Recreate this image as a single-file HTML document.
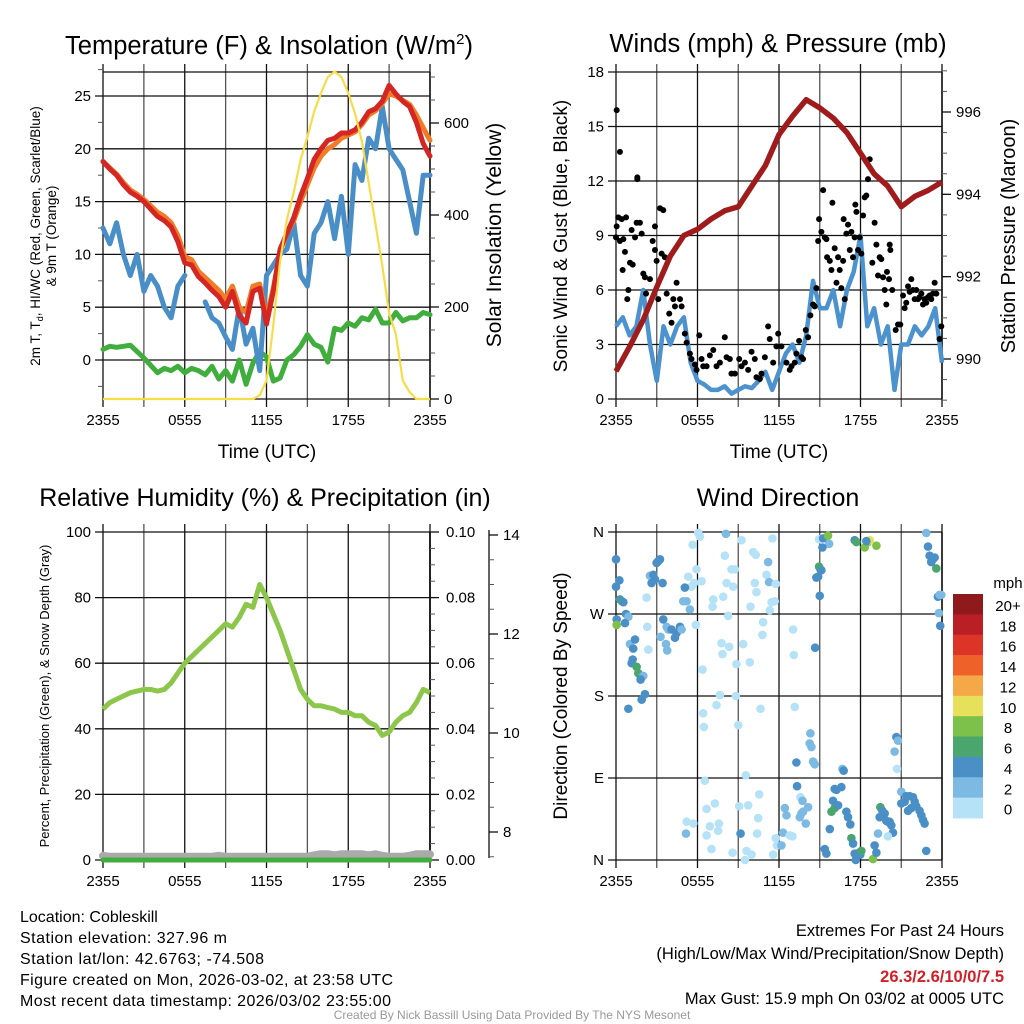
<!DOCTYPE html>
<html><head><meta charset="utf-8"><style>
html,body{margin:0;padding:0;background:#fff;}
svg{display:block;font-family:"Liberation Sans",sans-serif;}
</style></head><body>
<svg id="chart" width="1024" height="1024" viewBox="0 0 1024 1024" xmlns="http://www.w3.org/2000/svg">
<rect width="1024" height="1024" fill="#fff"/>
<g id="p1"></g>
<g id="p2"></g>
<g id="p3"></g>
<g id="p4"></g>
<text x="269" y="54" font-size="25.5" text-anchor="middle">Temperature (F) &amp; Insolation (W/m<tspan dy="-10" font-size="15">2</tspan><tspan dy="10">)</tspan></text>
<text x="778" y="52" font-size="25.5" text-anchor="middle">Winds (mph) &amp; Pressure (mb)</text>
<text x="265" y="506" font-size="25" text-anchor="middle">Relative Humidity (%) &amp; Precipitation (in)</text>
<text x="778" y="506" font-size="25" text-anchor="middle">Wind Direction</text>
<text transform="translate(40,236) rotate(-90)" font-size="13.5" text-anchor="middle">2m T, T<tspan dy="3" font-size="9">d</tspan><tspan dy="-3">, HI/WC (Red, Green, Scarlet/Blue)</tspan></text>
<text transform="translate(56,236) rotate(-90)" font-size="13.5" text-anchor="middle">&amp; 9m T (Orange)</text>
<text transform="translate(501,235) rotate(-90)" font-size="21" text-anchor="middle">Solar Insolation (Yellow)</text>
<text x="267" y="458" font-size="19" text-anchor="middle">Time (UTC)</text>
<text transform="translate(567,236) rotate(-90)" font-size="19" text-anchor="middle">Sonic Wind &amp; Gust (Blue, Black)</text>
<text transform="translate(1015,236) rotate(-90)" font-size="20" text-anchor="middle">Station Pressure (Maroon)</text>
<text x="779" y="458" font-size="19" text-anchor="middle">Time (UTC)</text>
<text transform="translate(49,696) rotate(-90)" font-size="13" text-anchor="middle">Percent, Precipitation (Green), &amp; Snow Depth (Gray)</text>
<text transform="translate(567,696) rotate(-90)" font-size="19" text-anchor="middle">Direction (Colored By Speed)</text>
<text x="1008" y="588" font-size="15" text-anchor="middle">mph</text>
<g font-size="16">
<text x="20" y="922">Location: Cobleskill</text>
<text x="20" y="943" textLength="207">Station elevation: 327.96 m</text>
<text x="20" y="964" textLength="244">Station lat/lon: 42.6763; -74.508</text>
<text x="20" y="985" textLength="373">Figure created on Mon, 2026-03-02, at 23:58 UTC</text>
<text x="20" y="1006" textLength="371">Most recent data timestamp: 2026/03/02 23:55:00</text>
</g>
<g font-size="16.5" text-anchor="end">
<text x="1004" y="936">Extremes For Past 24 Hours</text>
<text x="1004" y="959">(High/Low/Max Wind/Precipitation/Snow Depth)</text>
<text x="1004" y="982" fill="#d0202a" font-weight="bold">26.3/2.6/10/0/7.5</text>
<text x="1004" y="1004">Max Gust: 15.9 mph On 03/02 at 0005 UTC</text>
</g>
<text x="512" y="1019" font-size="12" fill="#999" text-anchor="middle">Created By Nick Bassill Using Data Provided By The NYS Mesonet</text>
</svg>
<script>
// ---- data (hours since 2355 UTC, half-hour steps unless noted) ----
const timeTickLabels = ["2355","0555","1155","1755","2355"];
const tempRed = [18.8,18.1,17.5,16.6,15.9,15.5,15.0,14.3,13.6,13.2,12.6,11.2,9.2,9.0,7.9,7.3,6.6,6.0,5.0,6.5,4.2,3.5,6.5,6.8,3.4,6.5,10.5,12,13.5,15.5,17.2,19,20.0,20.8,21.0,21.5,21.5,21.8,22.5,23.5,23.8,24.5,26.0,25.2,24.5,24,22.5,20.5,19.3];
const tempOrange = [18.8,18.2,17.6,16.8,16.1,15.7,15.2,14.6,14.0,13.6,13.0,11.8,9.8,9.5,8.4,7.8,7.2,6.6,5.8,7.0,5.0,4.5,7.0,7.2,4.0,6.8,10.3,12,13.2,15.0,16.6,18.2,19.3,20.0,20.4,21.0,21.3,21.6,22.3,23.2,23.6,24.3,25.2,25.0,24.6,24.2,23.2,22.0,20.8];
const tempBlue = [12.5,11,13,10,8,10,6.5,8,7,5,4,7,8,null,null,5.5,4,3.5,2.2,1,5,1.5,3,-1,8,9,10,10.5,13,8,7,12,13,15,11.5,15.5,10,18.5,17,21,20,24,20,19,18,15,12,17.5,17.5];
const dewGreen = [1,1.3,1.2,1.3,1.4,0.8,0.2,-0.5,-1.2,-0.8,-1,-0.6,-1.2,-0.8,-1,-1.4,-0.6,-1.8,-1,-2,0,-2.3,-0.3,0.8,0.3,-2,-1.7,0,0.5,1.3,2.4,1.5,1.2,-0.2,3,2.8,3.5,3.2,4,3.8,4.8,3.5,3.5,4.5,3.7,4.0,4,4.5,4.3];
const insolation = [0,0,0,0,0,0,0,0,0,0,0,0,0,0,0,0,0,0,0,0,0,0,0,8,40,160,300,390,450,520,570,625,665,700,712,700,665,620,560,470,380,290,187,140,40,15,0,0,0];
const windSpeed = [4,4.5,3.5,4,6,3,1,4,3,4,4.5,2,1,0.8,0.5,0.5,0.7,0.3,0.5,0.7,0.6,1,1.5,0.5,1.5,2.5,3,2,3.5,6.5,5,5,6,4,6,7,9,4,5,3,4,0.5,3,3,4,3.5,4,5,2];
const pressureHourly = [989.7,990.3,990.95,991.75,992.5,993.0,993.15,993.4,993.6,993.7,994.2,994.7,995.45,995.9,996.3,996.1,995.85,995.5,995.0,994.5,994.2,993.7,993.95,994.1,994.3];
const gustHour = [0.05,0.29,0,0.05,0.17,0.29,0.54,0.42,0.49,0.66,0.74,0.83,0.91,1.03,1.15,1.23,1.4,1.52,1.57,1.57,1.76,1.89,2.01,2.13,2.21,2.5,2.7,2.87,2.87,2.99,3.11,3.24,3.48,3.36,3.6,3.73,3.92,4.09,4.22,4.34,4.46,4.71,4.83,5.07,5.2,5.44,5.56,5.81,5.93,6.13,6.3,6.42,6.67,6.91,7.16,7.4,7.65,8.01,8.14,8.38,8.5,8.75,9.07,9.24,9.49,9.73,9.98,10.22,10.34,10.59,10.71,10.96,11.2,11.32,11.57,11.81,11.94,12.18,12.55,12.79,12.92,13.16,13.28,13.48,13.65,13.77,13.97,14.14,14.31,14.51,14.63,14.75,14.88,14.95,15.12,15.25,15.37,15.49,15.54,15.74,15.86,15.93,16.1,16.23,16.35,16.47,16.59,16.72,16.76,16.84,16.96,17.08,17.21,17.33,17.45,17.57,17.62,17.7,17.82,17.94,18.06,18.19,18.31,18.43,18.55,18.68,18.87,19.04,19.17,19.29,19.41,19.53,19.66,19.78,19.9,19.95,20.1,20.15,20.2,20.34,20.59,20.76,20.93,21.13,21.25,21.37,21.5,21.62,21.74,21.86,21.99,22.11,22.23,22.35,22.48,22.6,22.72,22.84,22.97,23.09,23.21,23.33,23.46,23.58,23.82,23.95];
const gustMph = [15.9,13.6,8.9,9.5,10,8.7,8.8,9.9,7.1,8.1,10,5.5,6.0,7.5,9.3,7.4,8.9,9.7,12.1,12.2,9.7,9.1,6.9,6.7,5.8,6.6,8.7,9.5,8.2,7.6,5.5,10.5,10.4,8.0,7.8,5.8,4.7,4.2,5.5,5.1,6.4,5.5,5.1,3.6,3.1,2.5,2.2,1.9,1.6,3.5,2.2,1.8,1.8,2.4,2.7,1.8,2.0,3.4,2.3,2.2,1.4,1.4,2.2,1.8,2.0,1.6,2.6,2.2,1.2,1.1,1.4,2.3,4.0,3.3,2.0,2.9,3.6,2.9,2.0,1.6,1.8,2.0,2.5,3.2,2.3,2.2,3.8,3.4,4.6,5.2,5.1,6.1,8.7,9.9,9.2,11.5,8.9,8.8,7.8,7.6,7.1,10.8,8.3,6.4,7.8,7.1,6.1,7.6,9.9,5.5,9.1,9.6,8.2,9.2,7.8,8.9,10.7,10.3,8.2,8.9,8.0,10.1,11.1,11.2,12.1,13.2,7.5,9.7,8.5,6.8,7.8,7.7,6.7,6.0,5.2,7.0,6.6,8.5,8.2,6.0,3.8,4.1,4.1,5.7,5.0,5.3,6.2,5.9,6.6,6.0,5.5,6.0,5.5,5.6,5.8,5.2,5.5,5.3,5.6,5.7,5.5,5.8,6.4,5.8,3.3,4.0];
const rhPercent = [46,48,49,50,51,51.5,52,52,51.5,52,54,57,60,62,64,66,68,70,72,71,74,78,77,84,80,75,70,64,58,52,49,47,47,46.5,46,45,45,44,44,42,41,38,39,42,44,45,48,52,51];
const precipIn = [0,0,0,0,0,0,0,0,0,0,0,0,0,0,0,0,0,0,0,0,0,0,0,0,0,0,0,0,0,0,0,0,0,0,0,0,0,0,0,0,0,0,0,0,0,0,0,0,0];
const snowDepth = [7.52,7.5,7.5,7.5,7.5,7.5,7.5,7.5,7.5,7.5,7.5,7.5,7.5,7.5,7.5,7.5,7.5,7.52,7.5,7.5,7.5,7.5,7.5,7.5,7.5,7.5,7.5,7.5,7.5,7.5,7.5,7.53,7.55,7.55,7.53,7.55,7.55,7.55,7.55,7.53,7.55,7.52,7.5,7.5,7.5,7.52,7.55,7.55,7.55];
const dirHour = [0,0,0.25,0.29,0.42,0.54,0.74,0.91,0.05,0.05,0.66,1.03,1.4,1.27,1.23,1.15,1.52,1.64,2.01,1.81,2.13,1.89,0.91,2.25,2.3,2.38,2.5,2.75,2.87,2.62,2.99,3.11,3.24,3.43,3.48,3.28,3.73,3.85,3.68,3.77,4.09,4.34,4.46,4.71,4.83,4.95,5.2,5.44,5.56,5.07,5.32,6.05,5.64,6.18,5.93,6.3,5.74,5.88,6.37,6.42,6.47,6.54,6.67,7.16,7.11,7.4,7.65,7.77,7.84,7.89,8.01,8.09,8.14,8.26,8.33,8.5,8.63,8.75,8.87,8.82,9.0,9.24,9.36,9.85,9.9,10.1,10.29,10.22,10.34,10.64,10.83,10.78,11.08,11.2,11.27,11.32,11.45,11.52,11.69,11.76,13.04,13.09,13.16,13.28,13.33,14.31,14.26,14.39,14.51,14.63,14.66,5.2,5.15,5.69,6.67,6.91,7.03,7.28,7.52,7.57,8.58,9.07,9.17,9.61,9.73,9.98,9.56,10.47,10.54,10.39,11.57,11.76,11.86,12.18,12.3,12.43,12.55,12.79,12.99,13.58,13.73,13.53,13.65,13.97,14.14,13.77,9.49,14.95,15.25,15.61,15.69,15.2,14.95,15.05,14.75,14.88,15.0,15.12,16.1,16.23,15.98,16.1,15.86,16.35,16.59,16.67,16.76,16.96,17.08,17.25,17.33,17.45,17.57,17.65,17.89,17.99,18.06,15.74,15.37,15.49,17.57,17.7,18.31,18.55,18.68,19.17,18.43,18.92,19.17,19.04,19.29,19.41,19.46,19.61,19.78,19.9,20.02,20.15,20.27,20.39,20.02,20.64,20.76,20.51,20.69,21.0,21.0,21.25,21.37,21.62,21.74,21.86,21.99,22.11,22.35,22.48,22.6,22.72,21.5,22.84,22.84,22.97,23.09,23.21,23.33,23.46,23.58,23.7,23.82,23.95,23.77,23.87];
const dirDeg = [330,300,307,286,284,283,270,267,264,258,260,237,242,232,220,216,212,205,202,198,182,176,166,288,256,231,312,313,308,304,326,328,330,304,264,245,256,253,237,230,253,244,249,256,253,284,284,275,300,299,311,359,346,355,319,306,304,258,209,161,146,87,56,286,278,170,181,238,226,289,334,358,304,268,234,319,300,319,215,180,148,351,237,217,278,338,335,304,294,166,261,247,313,327,305,274,283,353,284,303,253,225,168,107,81,139,128,124,108,105,233,42,29,40,27,37,12,62,32,40,8,59,29,10,60,6,93,46,72,29,6,24,16,16,30,57,49,27,26,69,65,47,51,40,58,53,0,352,353,356,347,343,322,319,310,311,290,318,78,77,65,57,53,60,80,100,98,53,47,39,24,18,7,0,8,6,10,34,12,7,351,349,343,349,351,345,350,1,8,16,29,47,58,54,51,43,42,42,38,30,26,135,131,119,100,75,62,64,70,70,57,69,64,59,54,49,44,40,54,10,359,344,334,327,330,332,320,289,291,291,271,257];
const dirSpeed = [5,5,5,5,7,5,5,3,5,9,5,3,5,5,5,5,7,7,3,5,5,5,5,1,1,1,3,5,5,5,5,5,5,5,5,3,3,3,3,3,5,5,5,5,3,3,3,3,1,5,1,1,1,1,1,1,1,1,1,1,1,1,1,1,1,1,1,1,1,1,1,3,1,1,1,1,1,1,1,1,1,1,1,1,1,1,1,1,1,1,1,1,1,3,3,1,1,1,1,1,1,1,1,5,5,3,3,3,3,3,5,1,3,1,1,1,1,1,1,1,1,1,5,1,1,1,1,1,1,1,1,1,1,3,3,3,3,1,1,1,3,3,3,3,3,3,1,1,5,9,3,5,7,7,5,5,5,5,5,5,5,7,7,5,5,3,5,5,5,5,7,5,5,5,5,5,7,5,5,5,5,7,9,9,11,9,5,9,5,5,3,5,7,5,5,5,5,5,5,5,1,5,3,3,1,3,5,5,5,5,5,5,5,5,5,5,5,5,5,5,3,5,5,5,5,5,7,5,3,3,3,5,5];
const dirLabels = ["N","W","S","E","N"];
const speedBinLabels = ["20+","18","16","14","12","10","8","6","4","2","0"];
const speedBinColors = ["#8f1a1c","#bb1f26","#dc3527","#ee622a","#f5a847","#e6e05b","#7dc14a","#4ba66e","#4a8fc6","#7cb9e3","#b5e2f6"];
const tempTicks = [0,5,10,15,20,25];
const insoTicks = [0,200,400,600];
const windTicks = [0,3,6,9,12,15,18];
const presTicks = [990,992,994,996];
const rhTicks = [0,20,40,60,80,100];
const precipTicks = [0,0.02,0.04,0.06,0.08,0.1];
const snowTicks = [8,10,12,14];

const NS="http://www.w3.org/2000/svg";
function mk(parent,tag,attrs){const e=document.createElementNS(NS,tag);for(const k in attrs)e.setAttribute(k,attrs[k]);parent.appendChild(e);return e;}
function lin(d0,d1,r0,r1){return v=>r0+(v-d0)*(r1-r0)/(d1-d0);}
function halfHours(arr){return arr.map((v,i)=>i*0.5);}
function linePath(xs,ys,xf,yf){let d="",pen=false;for(let i=0;i<xs.length;i++){if(ys[i]===null||ys[i]===undefined){pen=false;continue;}d+=(pen?"L":"M")+xf(xs[i]).toFixed(1)+","+yf(ys[i]).toFixed(1);pen=true;}return d;}

function frame(g,X0,X1,Y0,Y1){
  const xs=lin(0,24,X0,X1);
  for(let h=0;h<=24;h+=3){
    const l=mk(g,"line",{x1:xs(h),x2:xs(h),y1:Y0-8,y2:Y1+8,stroke:(h%6==0)?"#111":"#555","stroke-width":1.3});
    
    
  }
  timeTickLabels.forEach((t,i)=>{
    const e=mk(g,"text",{x:xs(i*6),y:Y1+26,"font-size":15,"text-anchor":"middle"});e.textContent=t;
    
    
  });
  return xs;
}
function hgrid(g,X0,X1,ys,ticks,labels){
  ticks.forEach((v,i)=>{
    const y=ys(v);
    const l=mk(g,"line",{x1:X0-8,x2:X1,y1:y,y2:y,stroke:"#111","stroke-width":1.3});
    
    
    const t=mk(g,"text",{x:X0-12,y:y+5,"font-size":15,"text-anchor":"end"});t.textContent=labels?labels[i]:String(v);
    
    
  });
}
function rightAxis(g,X,ys,ticks,fmt,minorStep,lo,hi,off){
  off=off||0;
  for(let v=lo;v<=hi+1e-9;v+=minorStep){mk(g,"line",{x1:X,x2:X+5,y1:ys(v),y2:ys(v),stroke:"#555","stroke-width":1});}
  ticks.forEach(v=>{
    mk(g,"line",{x1:X,x2:X+9,y1:ys(v),y2:ys(v),stroke:"#111","stroke-width":1.3});
    const t=mk(g,"text",{x:X+14+off,y:ys(v)+5,"font-size":15});t.textContent=fmt(v);
    
    
  });
}

// ---- Panel 1: temperature ----
(function(){
  const g=document.getElementById("p1");
  const X0=103,X1=430,Y0=72,Y1=399;
  const xs=frame(g,X0,X1,Y0,Y1);
  const ty=lin(0,25,360,96), iy=lin(0,600,399,123);
  hgrid(g,X0,X1,ty,tempTicks);
  for(let v=-2.5;v<=27.5;v+=5){mk(g,"line",{x1:X0-5,x2:X0,y1:ty(v),y2:ty(v),stroke:"#555"});}
  mk(g,"line",{x1:X0,x2:X1,y1:Y0,y2:Y0,stroke:"#111","stroke-width":1.3});
  mk(g,"line",{x1:X0,x2:X1,y1:Y1,y2:Y1,stroke:"#111","stroke-width":1.3});
  mk(g,"line",{x1:X1,x2:X1,y1:Y0,y2:Y1,stroke:"#111","stroke-width":1.5});
  rightAxis(g,X1,iy,insoTicks,v=>String(v),50,0,700);
  const hh=halfHours(tempRed);
  const series=[[dewGreen,"#3fae3c","dewpoint-line"],[tempBlue,"#4a8ec8","windchill-line"],[tempOrange,"#f07c28","temp-9m-line"],[tempRed,"#d42623","temp-2m-line"]];
  series.forEach(s=>{
    const p=mk(g,"path",{d:linePath(hh,s[0],xs,ty),fill:"none",stroke:s[1],"stroke-width":5,"stroke-linejoin":"round","stroke-linecap":"round"});
    
    
  });
  const ins=mk(g,"path",{d:linePath(hh,insolation,xs,iy),fill:"none",stroke:"#f7dc4a","stroke-width":2.2});
  
  
})();

// ---- Panel 2: winds ----
(function(){
  const g=document.getElementById("p2");
  const X0=616,X1=942,Y0=72,Y1=399;
  const xs=frame(g,X0,X1,Y0,Y1);
  const wy=lin(0,18,399,72), py=lin(990,996,359,112);
  hgrid(g,X0,X1,wy,windTicks);
  mk(g,"line",{x1:X1,x2:X1,y1:Y0,y2:Y1,stroke:"#111","stroke-width":1.5});
  rightAxis(g,X1,py,presTicks,v=>String(v),0.5,989,997);
  const hh=halfHours(windSpeed);
  const w=mk(g,"path",{d:linePath(hh,windSpeed,xs,wy),fill:"none",stroke:"#4b92cf","stroke-width":4.5,"stroke-linejoin":"round"});
  
  
  gustHour.forEach((h,i)=>{
    const c=mk(g,"circle",{cx:xs(h),cy:wy(gustMph[i]),r:3,fill:"#000"});
    
    
  });
  const ph=pressureHourly.map((v,i)=>i);
  const p=mk(g,"path",{d:linePath(ph,pressureHourly,xs,py),fill:"none",stroke:"#a01c1c","stroke-width":5.5,"stroke-linejoin":"round"});
  
  
})();

// ---- Panel 3: humidity ----
(function(){
  const g=document.getElementById("p3");
  const X0=103,X1=430,Y0=532,Y1=860;
  const xs=frame(g,X0,X1,Y0,Y1);
  const ry=lin(0,100,860,532), qy=lin(0,0.1,860,532), sy=lin(8,14,832,535);
  hgrid(g,X0,X1,ry,rhTicks);
  mk(g,"line",{x1:X1,x2:X1,y1:Y0,y2:Y1,stroke:"#111","stroke-width":1.8});
  rightAxis(g,X1,qy,precipTicks,v=>v.toFixed(2),0.005,0,0.1,2);
  mk(g,"line",{x1:489,x2:489,y1:530,y2:858,stroke:"#111","stroke-width":1.3});
  rightAxis(g,489,sy,snowTicks,v=>String(v),0.5,7.5,14);
  const hh=halfHours(rhPercent);
  const sd=mk(g,"path",{d:linePath(hh,snowDepth,xs,sy),fill:"none",stroke:"#aaa","stroke-width":8,"stroke-linecap":"round"});
  
  
  const pr=mk(g,"path",{d:linePath(hh,precipIn,xs,qy),fill:"none",stroke:"#3fae3c","stroke-width":5,"stroke-linecap":"round"});
  
  
  const rh=mk(g,"path",{d:linePath(hh,rhPercent,xs,ry),fill:"none",stroke:"#8cc64a","stroke-width":5,"stroke-linejoin":"round"});
  
  
})();

// ---- Panel 4: wind direction ----
(function(){
  const g=document.getElementById("p4");
  const X0=616,X1=942,Y0=532,Y1=860;
  const xs=frame(g,X0,X1,Y0,Y1);
  const dy=lin(0,360,860,532);
  hgrid(g,X0,X1,dy,[360,270,180,90,0],dirLabels);
  mk(g,"line",{x1:X1,x2:X1,y1:Y0,y2:Y1,stroke:"#111","stroke-width":1.5});
  dirHour.forEach((h,i)=>{
    const bin=Math.min(10,Math.floor(dirSpeed[i]/2));
    const c=mk(g,"circle",{cx:xs(h),cy:dy(dirDeg[i]),r:4.3,fill:speedBinColors[10-bin]});
    
    
  });
  const by=lin(0,11,594,818);
  speedBinLabels.forEach((lab,i)=>{
    const r=mk(g,"rect",{x:953,y:by(i),width:30,height:by(1)-by(0)+0.5,fill:speedBinColors[i]});
    
    
    const t=mk(g,"text",{x:1008,y:by(i)+17,"font-size":15,"text-anchor":"middle"});t.textContent=lab;
    
    
  });
})();
</script>
</body></html>
